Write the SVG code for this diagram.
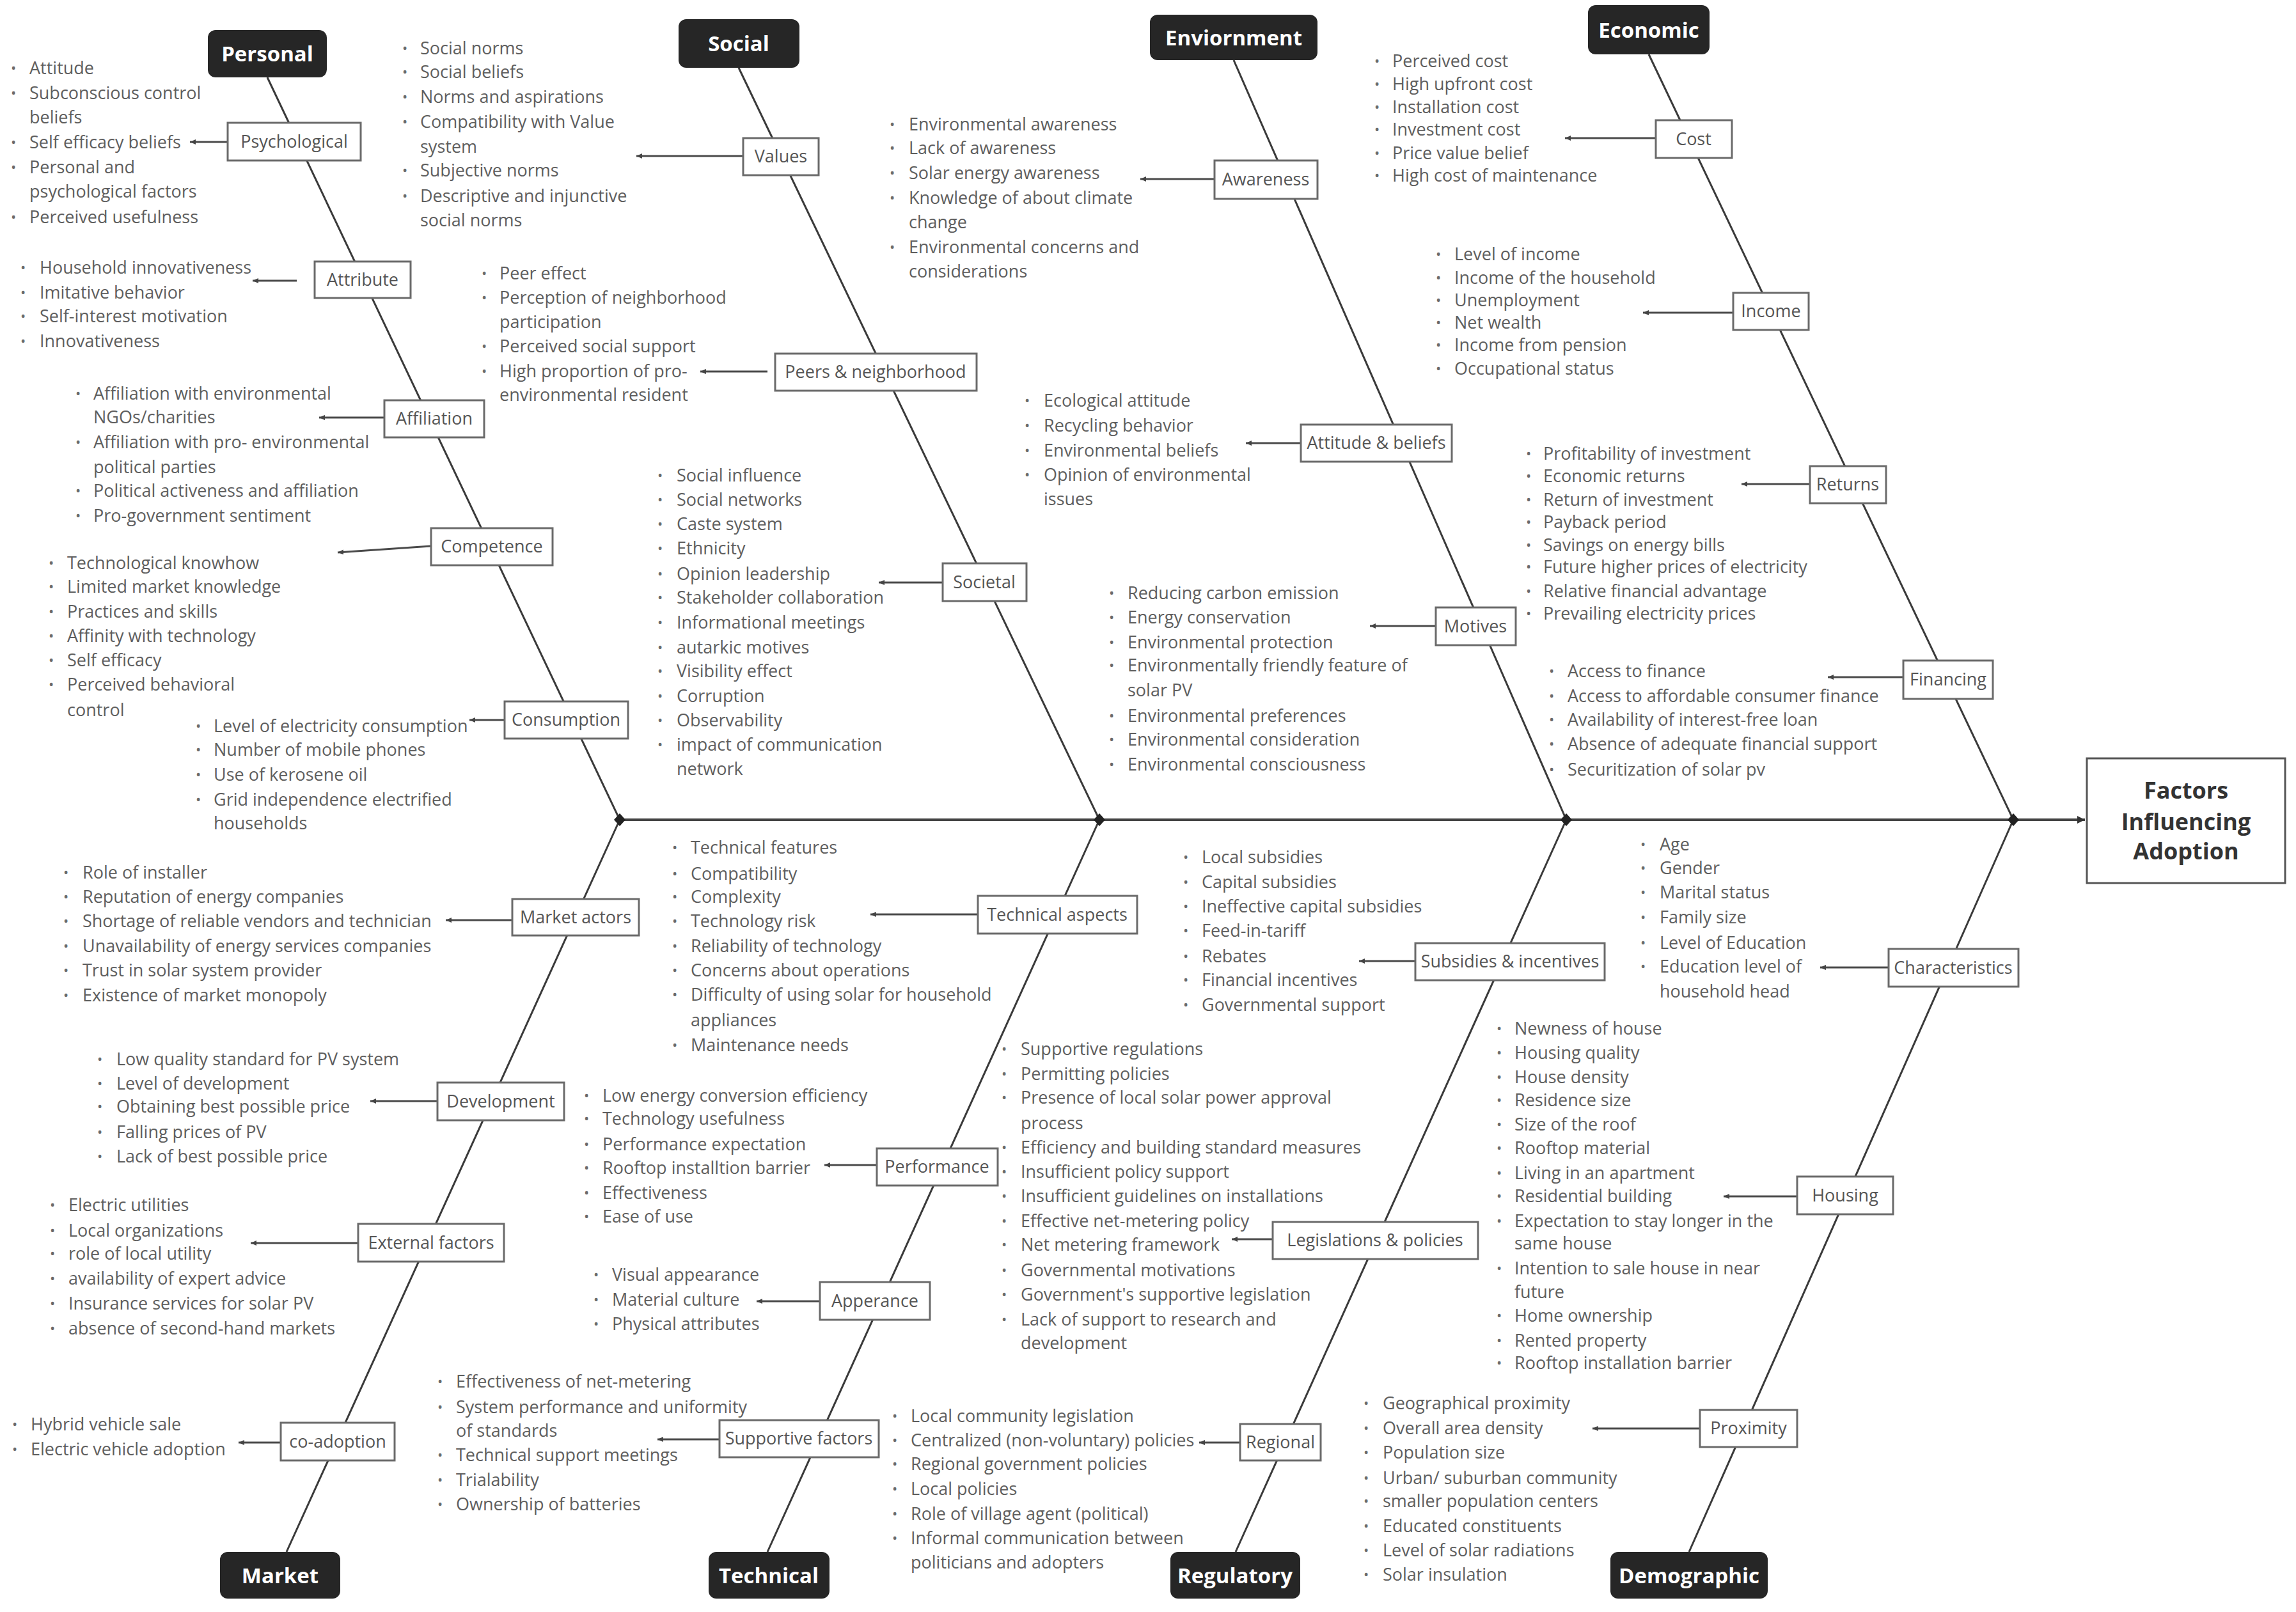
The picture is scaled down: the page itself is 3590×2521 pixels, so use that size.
<svg xmlns="http://www.w3.org/2000/svg" width="3590" height="2521" viewBox="0 0 3590 2521">
<defs>
<marker id="ah" markerUnits="userSpaceOnUse" markerWidth="10" markerHeight="10" refX="9" refY="4" orient="auto"><path d="M0,0 L9,4 L0,8 z" fill="#444"/></marker>
<marker id="ahb" markerUnits="userSpaceOnUse" markerWidth="14" markerHeight="14" refX="12" refY="6" orient="auto"><path d="M0,0 L12,6 L0,12 z" fill="#333"/></marker>
<style>
.bone{stroke:#3a3a3a;stroke-width:3;fill:none}
.spine{stroke:#444;stroke-width:4}
.arr{stroke:#4a4a4a;stroke-width:3;marker-end:url(#ah)}
.b{fill:#fff;stroke:#6a6a6a;stroke-width:3}
.bl{font-family:'Open Sans',sans-serif;font-size:27px;fill:#555;text-anchor:middle}
.t{font-family:'Open Sans',sans-serif;font-size:27px;fill:#5e5e5e}
.d{font-family:'Open Sans',sans-serif;font-size:22px;fill:#6a6a6a}
.cr{fill:#262626}
.ct{font-family:'Open Sans',sans-serif;font-size:33px;font-weight:bold;fill:#fff;text-anchor:middle}
.dm{fill:#222}
</style>
</defs>
<rect width="3590" height="2521" fill="#fff"/>

<g id="connectors">
<line class="spine" x1="969" y1="1282" x2="3260" y2="1282" style="marker-end:url(#ahb)"/>
<line class="bone" x1="418" y1="121" x2="969" y2="1282"/>
<line class="bone" x1="1155" y1="106" x2="1719" y2="1282"/>
<line class="bone" x1="1929" y1="94" x2="2449" y2="1282"/>
<line class="bone" x1="2578" y1="85" x2="3148" y2="1282"/>
<line class="bone" x1="969" y1="1282" x2="448" y2="2427"/>
<line class="bone" x1="1719" y1="1282" x2="1200" y2="2427"/>
<line class="bone" x1="2449" y1="1282" x2="1932" y2="2427"/>
<line class="bone" x1="3148" y1="1282" x2="2641" y2="2427"/>
<polygon class="dm" points="960,1282 969,1272 978,1282 969,1292"/>
<polygon class="dm" points="1710,1282 1719,1272 1728,1282 1719,1292"/>
<polygon class="dm" points="2440,1282 2449,1272 2458,1282 2449,1292"/>
<polygon class="dm" points="3139,1282 3148,1272 3157,1282 3148,1292"/>
<line class="arr" x1="356" y1="222" x2="297" y2="222"/>
<line class="arr" x1="464" y1="439" x2="395" y2="439"/>
<line class="arr" x1="601" y1="653" x2="499" y2="653"/>
<line class="arr" x1="674" y1="854" x2="528" y2="864"/>
<line class="arr" x1="789" y1="1126" x2="734" y2="1126"/>
<line class="arr" x1="1162" y1="244" x2="995" y2="244"/>
<line class="arr" x1="1200" y1="581" x2="1095" y2="581"/>
<line class="arr" x1="1474" y1="911" x2="1374" y2="911"/>
<line class="arr" x1="1899" y1="280" x2="1783" y2="280"/>
<line class="arr" x1="2034" y1="693" x2="1948" y2="693"/>
<line class="arr" x1="2245" y1="979" x2="2142" y2="979"/>
<line class="arr" x1="2589" y1="216" x2="2447" y2="216"/>
<line class="arr" x1="2710" y1="489" x2="2569" y2="489"/>
<line class="arr" x1="2830" y1="757" x2="2723" y2="757"/>
<line class="arr" x1="2976" y1="1059" x2="2858" y2="1059"/>
<line class="arr" x1="801" y1="1439" x2="697" y2="1439"/>
<line class="arr" x1="684" y1="1722" x2="579" y2="1722"/>
<line class="arr" x1="560" y1="1944" x2="392" y2="1944"/>
<line class="arr" x1="439" y1="2256" x2="373" y2="2256"/>
<line class="arr" x1="1529" y1="1430" x2="1361" y2="1430"/>
<line class="arr" x1="1371" y1="1822" x2="1289" y2="1822"/>
<line class="arr" x1="1282" y1="2035" x2="1183" y2="2035"/>
<line class="arr" x1="1125" y1="2251" x2="1028" y2="2251"/>
<line class="arr" x1="2213" y1="1503" x2="2125" y2="1503"/>
<line class="arr" x1="1990" y1="1938" x2="1926" y2="1938"/>
<line class="arr" x1="1939" y1="2256" x2="1875" y2="2256"/>
<line class="arr" x1="2953" y1="1513" x2="2846" y2="1513"/>
<line class="arr" x1="2810" y1="1871" x2="2695" y2="1871"/>
<line class="arr" x1="2658" y1="2234" x2="2490" y2="2234"/>
</g>

<g id="effect">
<rect x="3263" y="1186" width="310" height="195" fill="#fff" stroke="#555" stroke-width="3"/>
<text font-family="'Open Sans',sans-serif" font-size="36" font-weight="bold" fill="#333" text-anchor="middle"><tspan x="3418" y="1249">Factors</tspan><tspan x="3418" y="1298">Influencing</tspan><tspan x="3418" y="1344">Adoption</tspan></text>
</g>

<g id="cat-personal"><rect class="cr" x="325" y="47" width="186" height="74" rx="12"/><text class="ct" x="418" y="96">Personal</text></g>
<g id="cat-social"><rect class="cr" x="1061" y="30" width="189" height="76" rx="12"/><text class="ct" x="1155" y="80">Social</text></g>
<g id="cat-environment"><rect class="cr" x="1798" y="23" width="262" height="71" rx="12"/><text class="ct" x="1929" y="71">Enviornment</text></g>
<g id="cat-economic"><rect class="cr" x="2483" y="8" width="190" height="77" rx="12"/><text class="ct" x="2578" y="59">Economic</text></g>
<g id="cat-market"><rect class="cr" x="344" y="2427" width="188" height="73" rx="12"/><text class="ct" x="438" y="2476">Market</text></g>
<g id="cat-technical"><rect class="cr" x="1108" y="2427" width="189" height="73" rx="12"/><text class="ct" x="1202" y="2476">Technical</text></g>
<g id="cat-regulatory"><rect class="cr" x="1830" y="2427" width="203" height="73" rx="12"/><text class="ct" x="1931" y="2476">Regulatory</text></g>
<g id="cat-demographic"><rect class="cr" x="2518" y="2427" width="246" height="73" rx="12"/><text class="ct" x="2641" y="2476">Demographic</text></g>

<g id="psychological"><rect class="b" x="356" y="192" width="208" height="59"/><text class="bl" x="460" y="231">Psychological</text>
<text class="d"><tspan x="17" y="114">•</tspan><tspan x="17" y="153">•</tspan><tspan x="17" y="230">•</tspan><tspan x="17" y="269">•</tspan><tspan x="17" y="347">•</tspan></text>
<text class="t"><tspan x="46" y="116">Attitude</tspan><tspan x="46" y="155">Subconscious control</tspan><tspan x="46" y="193">beliefs</tspan><tspan x="46" y="232">Self efficacy beliefs</tspan><tspan x="46" y="271">Personal and</tspan><tspan x="46" y="309">psychological factors</tspan><tspan x="46" y="349">Perceived usefulness</tspan></text></g>

<g id="attribute"><rect class="b" x="492" y="409" width="150" height="57"/><text class="bl" x="567" y="447">Attribute</text>
<text class="d"><tspan x="32" y="426">•</tspan><tspan x="32" y="465">•</tspan><tspan x="32" y="502">•</tspan><tspan x="32" y="541">•</tspan></text>
<text class="t"><tspan x="62" y="428">Household innovativeness</tspan><tspan x="62" y="467">Imitative behavior</tspan><tspan x="62" y="504">Self-interest motivation</tspan><tspan x="62" y="543">Innovativeness</tspan></text></g>

<g id="affiliation"><rect class="b" x="601" y="626" width="156" height="58"/><text class="bl" x="679" y="664">Affiliation</text>
<text class="d"><tspan x="118" y="623">•</tspan><tspan x="118" y="699">•</tspan><tspan x="118" y="775">•</tspan><tspan x="118" y="814">•</tspan></text>
<text class="t"><tspan x="146" y="625">Affiliation with environmental</tspan><tspan x="146" y="662">NGOs/charities</tspan><tspan x="146" y="701">Affiliation with pro- environmental</tspan><tspan x="146" y="740">political parties</tspan><tspan x="146" y="777">Political activeness and affiliation</tspan><tspan x="146" y="816">Pro-government sentiment</tspan></text></g>

<g id="competence"><rect class="b" x="674" y="826" width="190" height="58"/><text class="bl" x="769" y="864">Competence</text>
<text class="d"><tspan x="76" y="888">•</tspan><tspan x="76" y="925">•</tspan><tspan x="76" y="964">•</tspan><tspan x="76" y="1002">•</tspan><tspan x="76" y="1040">•</tspan><tspan x="76" y="1078">•</tspan></text>
<text class="t"><tspan x="105" y="890">Technological knowhow</tspan><tspan x="105" y="927">Limited market knowledge</tspan><tspan x="105" y="966">Practices and skills</tspan><tspan x="105" y="1004">Affinity with technology</tspan><tspan x="105" y="1042">Self efficacy</tspan><tspan x="105" y="1080">Perceived behavioral</tspan><tspan x="105" y="1120">control</tspan></text></g>

<g id="consumption"><rect class="b" x="789" y="1097" width="193" height="58"/><text class="bl" x="885" y="1135">Consumption</text>
<text class="d"><tspan x="306" y="1143">•</tspan><tspan x="306" y="1180">•</tspan><tspan x="306" y="1219">•</tspan><tspan x="306" y="1258">•</tspan></text>
<text class="t"><tspan x="334" y="1145">Level of electricity consumption</tspan><tspan x="334" y="1182">Number of mobile phones</tspan><tspan x="334" y="1221">Use of kerosene oil</tspan><tspan x="334" y="1260">Grid independence electrified</tspan><tspan x="334" y="1297">households</tspan></text></g>

<g id="values"><rect class="b" x="1162" y="216" width="118" height="58"/><text class="bl" x="1221" y="254">Values</text>
<text class="d"><tspan x="629" y="83">•</tspan><tspan x="629" y="120">•</tspan><tspan x="629" y="159">•</tspan><tspan x="629" y="198">•</tspan><tspan x="629" y="274">•</tspan><tspan x="629" y="314">•</tspan></text>
<text class="t"><tspan x="657" y="85">Social norms</tspan><tspan x="657" y="122">Social beliefs</tspan><tspan x="657" y="161">Norms and aspirations</tspan><tspan x="657" y="200">Compatibility with Value</tspan><tspan x="657" y="239">system</tspan><tspan x="657" y="276">Subjective norms</tspan><tspan x="657" y="316">Descriptive and injunctive</tspan><tspan x="657" y="354">social norms</tspan></text></g>

<g id="peers"><rect class="b" x="1212" y="553" width="315" height="58"/><text class="bl" x="1369" y="591">Peers &amp; neighborhood</text>
<text class="d"><tspan x="753" y="435">•</tspan><tspan x="753" y="473">•</tspan><tspan x="753" y="549">•</tspan><tspan x="753" y="588">•</tspan></text>
<text class="t"><tspan x="781" y="437">Peer effect</tspan><tspan x="781" y="475">Perception of neighborhood</tspan><tspan x="781" y="513">participation</tspan><tspan x="781" y="551">Perceived social support</tspan><tspan x="781" y="590">High proportion of pro-</tspan><tspan x="781" y="627">environmental resident</tspan></text></g>

<g id="societal"><rect class="b" x="1474" y="881" width="131" height="59"/><text class="bl" x="1539" y="920">Societal</text>
<text class="d"><tspan x="1028" y="751">•</tspan><tspan x="1028" y="789">•</tspan><tspan x="1028" y="827">•</tspan><tspan x="1028" y="865">•</tspan><tspan x="1028" y="905">•</tspan><tspan x="1028" y="942">•</tspan><tspan x="1028" y="981">•</tspan><tspan x="1028" y="1020">•</tspan><tspan x="1028" y="1057">•</tspan><tspan x="1028" y="1096">•</tspan><tspan x="1028" y="1134">•</tspan><tspan x="1028" y="1172">•</tspan></text>
<text class="t"><tspan x="1058" y="753">Social influence</tspan><tspan x="1058" y="791">Social networks</tspan><tspan x="1058" y="829">Caste system</tspan><tspan x="1058" y="867">Ethnicity</tspan><tspan x="1058" y="907">Opinion leadership</tspan><tspan x="1058" y="944">Stakeholder collaboration</tspan><tspan x="1058" y="983">Informational meetings</tspan><tspan x="1058" y="1022">autarkic motives</tspan><tspan x="1058" y="1059">Visibility effect</tspan><tspan x="1058" y="1098">Corruption</tspan><tspan x="1058" y="1136">Observability</tspan><tspan x="1058" y="1174">impact of communication</tspan><tspan x="1058" y="1212">network</tspan></text></g>

<g id="awareness"><rect class="b" x="1899" y="251" width="161" height="60"/><text class="bl" x="1979" y="290">Awareness</text>
<text class="d"><tspan x="1391" y="202">•</tspan><tspan x="1391" y="239">•</tspan><tspan x="1391" y="278">•</tspan><tspan x="1391" y="317">•</tspan><tspan x="1391" y="394">•</tspan></text>
<text class="t"><tspan x="1421" y="204">Environmental awareness</tspan><tspan x="1421" y="241">Lack of awareness</tspan><tspan x="1421" y="280">Solar energy awareness</tspan><tspan x="1421" y="319">Knowledge of about climate</tspan><tspan x="1421" y="357">change</tspan><tspan x="1421" y="396">Environmental concerns and</tspan><tspan x="1421" y="434">considerations</tspan></text></g>

<g id="attitude"><rect class="b" x="2034" y="664" width="236" height="58"/><text class="bl" x="2152" y="702">Attitude &amp; beliefs</text>
<text class="d"><tspan x="1602" y="634">•</tspan><tspan x="1602" y="673">•</tspan><tspan x="1602" y="712">•</tspan><tspan x="1602" y="750">•</tspan></text>
<text class="t"><tspan x="1632" y="636">Ecological attitude</tspan><tspan x="1632" y="675">Recycling behavior</tspan><tspan x="1632" y="714">Environmental beliefs</tspan><tspan x="1632" y="752">Opinion of environmental</tspan><tspan x="1632" y="790">issues</tspan></text></g>

<g id="motives"><rect class="b" x="2245" y="950" width="125" height="59"/><text class="bl" x="2307" y="989">Motives</text>
<text class="d"><tspan x="1734" y="935">•</tspan><tspan x="1734" y="973">•</tspan><tspan x="1734" y="1012">•</tspan><tspan x="1734" y="1048">•</tspan><tspan x="1734" y="1127">•</tspan><tspan x="1734" y="1164">•</tspan><tspan x="1734" y="1203">•</tspan></text>
<text class="t"><tspan x="1763" y="937">Reducing carbon emission</tspan><tspan x="1763" y="975">Energy conservation</tspan><tspan x="1763" y="1014">Environmental protection</tspan><tspan x="1763" y="1050">Environmentally friendly feature of</tspan><tspan x="1763" y="1089">solar PV</tspan><tspan x="1763" y="1129">Environmental preferences</tspan><tspan x="1763" y="1166">Environmental consideration</tspan><tspan x="1763" y="1205">Environmental consciousness</tspan></text></g>

<g id="cost"><rect class="b" x="2589" y="188" width="119" height="59"/><text class="bl" x="2648" y="227">Cost</text>
<text class="d"><tspan x="2149" y="103">•</tspan><tspan x="2149" y="139">•</tspan><tspan x="2149" y="175">•</tspan><tspan x="2149" y="210">•</tspan><tspan x="2149" y="247">•</tspan><tspan x="2149" y="282">•</tspan></text>
<text class="t"><tspan x="2177" y="105">Perceived cost</tspan><tspan x="2177" y="141">High upfront cost</tspan><tspan x="2177" y="177">Installation cost</tspan><tspan x="2177" y="212">Investment cost</tspan><tspan x="2177" y="249">Price value belief</tspan><tspan x="2177" y="284">High cost of maintenance</tspan></text></g>

<g id="income"><rect class="b" x="2710" y="458" width="118" height="58"/><text class="bl" x="2769" y="496">Income</text>
<text class="d"><tspan x="2245" y="405">•</tspan><tspan x="2245" y="442">•</tspan><tspan x="2245" y="477">•</tspan><tspan x="2245" y="512">•</tspan><tspan x="2245" y="547">•</tspan><tspan x="2245" y="584">•</tspan></text>
<text class="t"><tspan x="2274" y="407">Level of income</tspan><tspan x="2274" y="444">Income of the household</tspan><tspan x="2274" y="479">Unemployment</tspan><tspan x="2274" y="514">Net wealth</tspan><tspan x="2274" y="549">Income from pension</tspan><tspan x="2274" y="586">Occupational status</tspan></text></g>

<g id="returns"><rect class="b" x="2830" y="729" width="119" height="58"/><text class="bl" x="2889" y="767">Returns</text>
<text class="d"><tspan x="2386" y="717">•</tspan><tspan x="2386" y="752">•</tspan><tspan x="2386" y="789">•</tspan><tspan x="2386" y="824">•</tspan><tspan x="2386" y="860">•</tspan><tspan x="2386" y="894">•</tspan><tspan x="2386" y="932">•</tspan><tspan x="2386" y="967">•</tspan></text>
<text class="t"><tspan x="2413" y="719">Profitability of investment</tspan><tspan x="2413" y="754">Economic returns</tspan><tspan x="2413" y="791">Return of investment</tspan><tspan x="2413" y="826">Payback period</tspan><tspan x="2413" y="862">Savings on energy bills</tspan><tspan x="2413" y="896">Future higher prices of electricity</tspan><tspan x="2413" y="934">Relative financial advantage</tspan><tspan x="2413" y="969">Prevailing electricity prices</tspan></text></g>

<g id="financing"><rect class="b" x="2976" y="1033" width="140" height="60"/><text class="bl" x="3046" y="1072">Financing</text>
<text class="d"><tspan x="2422" y="1057">•</tspan><tspan x="2422" y="1096">•</tspan><tspan x="2422" y="1133">•</tspan><tspan x="2422" y="1171">•</tspan><tspan x="2422" y="1211">•</tspan></text>
<text class="t"><tspan x="2451" y="1059">Access to finance</tspan><tspan x="2451" y="1098">Access to affordable consumer finance</tspan><tspan x="2451" y="1135">Availability of interest-free loan</tspan><tspan x="2451" y="1173">Absence of adequate financial support</tspan><tspan x="2451" y="1213">Securitization of solar pv</tspan></text></g>

<g id="market-actors"><rect class="b" x="801" y="1406" width="198" height="57"/><text class="bl" x="900" y="1444">Market actors</text>
<text class="d"><tspan x="99" y="1372">•</tspan><tspan x="99" y="1410">•</tspan><tspan x="99" y="1448">•</tspan><tspan x="99" y="1487">•</tspan><tspan x="99" y="1525">•</tspan><tspan x="99" y="1564">•</tspan></text>
<text class="t"><tspan x="129" y="1374">Role of installer</tspan><tspan x="129" y="1412">Reputation of energy companies</tspan><tspan x="129" y="1450">Shortage of reliable vendors and technician</tspan><tspan x="129" y="1489">Unavailability of energy services companies</tspan><tspan x="129" y="1527">Trust in solar system provider</tspan><tspan x="129" y="1566">Existence of market monopoly</tspan></text></g>

<g id="development"><rect class="b" x="684" y="1693" width="198" height="59"/><text class="bl" x="783" y="1732">Development</text>
<text class="d"><tspan x="152" y="1664">•</tspan><tspan x="152" y="1702">•</tspan><tspan x="152" y="1738">•</tspan><tspan x="152" y="1778">•</tspan><tspan x="152" y="1816">•</tspan></text>
<text class="t"><tspan x="182" y="1666">Low quality standard for PV system</tspan><tspan x="182" y="1704">Level of development</tspan><tspan x="182" y="1740">Obtaining best possible price</tspan><tspan x="182" y="1780">Falling prices of PV</tspan><tspan x="182" y="1818">Lack of best possible price</tspan></text></g>

<g id="external-factors"><rect class="b" x="560" y="1914" width="228" height="59"/><text class="bl" x="674" y="1953">External factors</text>
<text class="d"><tspan x="78" y="1892">•</tspan><tspan x="78" y="1932">•</tspan><tspan x="78" y="1968">•</tspan><tspan x="78" y="2007">•</tspan><tspan x="78" y="2046">•</tspan><tspan x="78" y="2085">•</tspan></text>
<text class="t"><tspan x="107" y="1894">Electric utilities</tspan><tspan x="107" y="1934">Local organizations</tspan><tspan x="107" y="1970">role of local utility</tspan><tspan x="107" y="2009">availability of expert advice</tspan><tspan x="107" y="2048">Insurance services for solar PV</tspan><tspan x="107" y="2087">absence of second-hand markets</tspan></text></g>

<g id="co-adoption"><rect class="b" x="439" y="2225" width="178" height="59"/><text class="bl" x="528" y="2264">co-adoption</text>
<text class="d"><tspan x="19" y="2235">•</tspan><tspan x="19" y="2274">•</tspan></text>
<text class="t"><tspan x="48" y="2237">Hybrid vehicle sale</tspan><tspan x="48" y="2276">Electric vehicle adoption</tspan></text></g>

<g id="technical-aspects"><rect class="b" x="1529" y="1401" width="249" height="59"/><text class="bl" x="1653" y="1440">Technical aspects</text>
<text class="d"><tspan x="1051" y="1333">•</tspan><tspan x="1051" y="1374">•</tspan><tspan x="1051" y="1410">•</tspan><tspan x="1051" y="1448">•</tspan><tspan x="1051" y="1487">•</tspan><tspan x="1051" y="1525">•</tspan><tspan x="1051" y="1563">•</tspan><tspan x="1051" y="1642">•</tspan></text>
<text class="t"><tspan x="1080" y="1335">Technical features</tspan><tspan x="1080" y="1376">Compatibility</tspan><tspan x="1080" y="1412">Complexity</tspan><tspan x="1080" y="1450">Technology risk</tspan><tspan x="1080" y="1489">Reliability of technology</tspan><tspan x="1080" y="1527">Concerns about operations</tspan><tspan x="1080" y="1565">Difficulty of using solar for household</tspan><tspan x="1080" y="1605">appliances</tspan><tspan x="1080" y="1644">Maintenance needs</tspan></text></g>

<g id="performance"><rect class="b" x="1371" y="1796" width="189" height="58"/><text class="bl" x="1465" y="1834">Performance</text>
<text class="d"><tspan x="913" y="1721">•</tspan><tspan x="913" y="1757">•</tspan><tspan x="913" y="1797">•</tspan><tspan x="913" y="1834">•</tspan><tspan x="913" y="1873">•</tspan><tspan x="913" y="1910">•</tspan></text>
<text class="t"><tspan x="942" y="1723">Low energy conversion efficiency</tspan><tspan x="942" y="1759">Technology usefulness</tspan><tspan x="942" y="1799">Performance expectation</tspan><tspan x="942" y="1836">Rooftop installtion barrier</tspan><tspan x="942" y="1875">Effectiveness</tspan><tspan x="942" y="1912">Ease of use</tspan></text></g>

<g id="apperance"><rect class="b" x="1282" y="2005" width="172" height="59"/><text class="bl" x="1368" y="2044">Apperance</text>
<text class="d"><tspan x="928" y="2001">•</tspan><tspan x="928" y="2040">•</tspan><tspan x="928" y="2078">•</tspan></text>
<text class="t"><tspan x="957" y="2003">Visual appearance</tspan><tspan x="957" y="2042">Material culture</tspan><tspan x="957" y="2080">Physical attributes</tspan></text></g>

<g id="supportive-factors"><rect class="b" x="1125" y="2221" width="249" height="58"/><text class="bl" x="1249" y="2259">Supportive factors</text>
<text class="d"><tspan x="684" y="2168">•</tspan><tspan x="684" y="2208">•</tspan><tspan x="684" y="2283">•</tspan><tspan x="684" y="2322">•</tspan><tspan x="684" y="2360">•</tspan></text>
<text class="t"><tspan x="713" y="2170">Effectiveness of net-metering</tspan><tspan x="713" y="2210">System performance and uniformity</tspan><tspan x="713" y="2247">of standards</tspan><tspan x="713" y="2285">Technical support meetings</tspan><tspan x="713" y="2324">Trialability</tspan><tspan x="713" y="2362">Ownership of batteries</tspan></text></g>

<g id="subsidies"><rect class="b" x="2213" y="1475" width="296" height="58"/><text class="bl" x="2361" y="1513">Subsidies &amp; incentives</text>
<text class="d"><tspan x="1850" y="1348">•</tspan><tspan x="1850" y="1387">•</tspan><tspan x="1850" y="1425">•</tspan><tspan x="1850" y="1463">•</tspan><tspan x="1850" y="1503">•</tspan><tspan x="1850" y="1540">•</tspan><tspan x="1850" y="1579">•</tspan></text>
<text class="t"><tspan x="1879" y="1350">Local subsidies</tspan><tspan x="1879" y="1389">Capital subsidies</tspan><tspan x="1879" y="1427">Ineffective capital subsidies</tspan><tspan x="1879" y="1465">Feed-in-tariff</tspan><tspan x="1879" y="1505">Rebates</tspan><tspan x="1879" y="1542">Financial incentives</tspan><tspan x="1879" y="1581">Governmental support</tspan></text></g>

<g id="legislations"><rect class="b" x="1990" y="1911" width="321" height="58"/><text class="bl" x="2150" y="1949">Legislations &amp; policies</text>
<text class="d"><tspan x="1566" y="1648">•</tspan><tspan x="1566" y="1687">•</tspan><tspan x="1566" y="1724">•</tspan><tspan x="1566" y="1802">•</tspan><tspan x="1566" y="1840">•</tspan><tspan x="1566" y="1878">•</tspan><tspan x="1566" y="1917">•</tspan><tspan x="1566" y="1954">•</tspan><tspan x="1566" y="1994">•</tspan><tspan x="1566" y="2032">•</tspan><tspan x="1566" y="2071">•</tspan></text>
<text class="t"><tspan x="1596" y="1650">Supportive regulations</tspan><tspan x="1596" y="1689">Permitting policies</tspan><tspan x="1596" y="1726">Presence of local solar power approval</tspan><tspan x="1596" y="1766">process</tspan><tspan x="1596" y="1804">Efficiency and building standard measures</tspan><tspan x="1596" y="1842">Insufficient policy support</tspan><tspan x="1596" y="1880">Insufficient guidelines on installations</tspan><tspan x="1596" y="1919">Effective net-metering policy</tspan><tspan x="1596" y="1956">Net metering framework</tspan><tspan x="1596" y="1996">Governmental motivations</tspan><tspan x="1596" y="2034">Government's supportive legislation</tspan><tspan x="1596" y="2073">Lack of support to research and</tspan><tspan x="1596" y="2110">development</tspan></text></g>

<g id="regional"><rect class="b" x="1939" y="2227" width="126" height="57"/><text class="bl" x="2002" y="2265">Regional</text>
<text class="d"><tspan x="1395" y="2222">•</tspan><tspan x="1395" y="2260">•</tspan><tspan x="1395" y="2297">•</tspan><tspan x="1395" y="2336">•</tspan><tspan x="1395" y="2375">•</tspan><tspan x="1395" y="2413">•</tspan></text>
<text class="t"><tspan x="1424" y="2224">Local community legislation</tspan><tspan x="1424" y="2262">Centralized (non-voluntary) policies</tspan><tspan x="1424" y="2299">Regional government policies</tspan><tspan x="1424" y="2338">Local policies</tspan><tspan x="1424" y="2377">Role of village agent (political)</tspan><tspan x="1424" y="2415">Informal communication between</tspan><tspan x="1424" y="2453">politicians and adopters</tspan></text></g>

<g id="characteristics"><rect class="b" x="2953" y="1484" width="203" height="59"/><text class="bl" x="3054" y="1523">Characteristics</text>
<text class="d"><tspan x="2565" y="1328">•</tspan><tspan x="2565" y="1365">•</tspan><tspan x="2565" y="1403">•</tspan><tspan x="2565" y="1442">•</tspan><tspan x="2565" y="1482">•</tspan><tspan x="2565" y="1519">•</tspan></text>
<text class="t"><tspan x="2595" y="1330">Age</tspan><tspan x="2595" y="1367">Gender</tspan><tspan x="2595" y="1405">Marital status</tspan><tspan x="2595" y="1444">Family size</tspan><tspan x="2595" y="1484">Level of Education</tspan><tspan x="2595" y="1521">Education level of</tspan><tspan x="2595" y="1560">household head</tspan></text></g>

<g id="housing"><rect class="b" x="2810" y="1840" width="150" height="59"/><text class="bl" x="2885" y="1879">Housing</text>
<text class="d"><tspan x="2340" y="1616">•</tspan><tspan x="2340" y="1654">•</tspan><tspan x="2340" y="1692">•</tspan><tspan x="2340" y="1728">•</tspan><tspan x="2340" y="1766">•</tspan><tspan x="2340" y="1803">•</tspan><tspan x="2340" y="1842">•</tspan><tspan x="2340" y="1878">•</tspan><tspan x="2340" y="1917">•</tspan><tspan x="2340" y="1991">•</tspan><tspan x="2340" y="2065">•</tspan><tspan x="2340" y="2104">•</tspan><tspan x="2340" y="2139">•</tspan></text>
<text class="t"><tspan x="2368" y="1618">Newness of house</tspan><tspan x="2368" y="1656">Housing quality</tspan><tspan x="2368" y="1694">House density</tspan><tspan x="2368" y="1730">Residence size</tspan><tspan x="2368" y="1768">Size of the roof</tspan><tspan x="2368" y="1805">Rooftop material</tspan><tspan x="2368" y="1844">Living in an apartment</tspan><tspan x="2368" y="1880">Residential building</tspan><tspan x="2368" y="1919">Expectation to stay longer in the</tspan><tspan x="2368" y="1954">same house</tspan><tspan x="2368" y="1993">Intention to sale house in near</tspan><tspan x="2368" y="2030">future</tspan><tspan x="2368" y="2067">Home ownership</tspan><tspan x="2368" y="2106">Rented property</tspan><tspan x="2368" y="2141">Rooftop installation barrier</tspan></text></g>

<g id="proximity"><rect class="b" x="2658" y="2205" width="152" height="58"/><text class="bl" x="2734" y="2243">Proximity</text>
<text class="d"><tspan x="2132" y="2202">•</tspan><tspan x="2132" y="2241">•</tspan><tspan x="2132" y="2279">•</tspan><tspan x="2132" y="2319">•</tspan><tspan x="2132" y="2355">•</tspan><tspan x="2132" y="2394">•</tspan><tspan x="2132" y="2432">•</tspan><tspan x="2132" y="2470">•</tspan></text>
<text class="t"><tspan x="2162" y="2204">Geographical proximity</tspan><tspan x="2162" y="2243">Overall area density</tspan><tspan x="2162" y="2281">Population size</tspan><tspan x="2162" y="2321">Urban/ suburban community</tspan><tspan x="2162" y="2357">smaller population centers</tspan><tspan x="2162" y="2396">Educated constituents</tspan><tspan x="2162" y="2434">Level of solar radiations</tspan><tspan x="2162" y="2472">Solar insulation</tspan></text></g>
</svg>
